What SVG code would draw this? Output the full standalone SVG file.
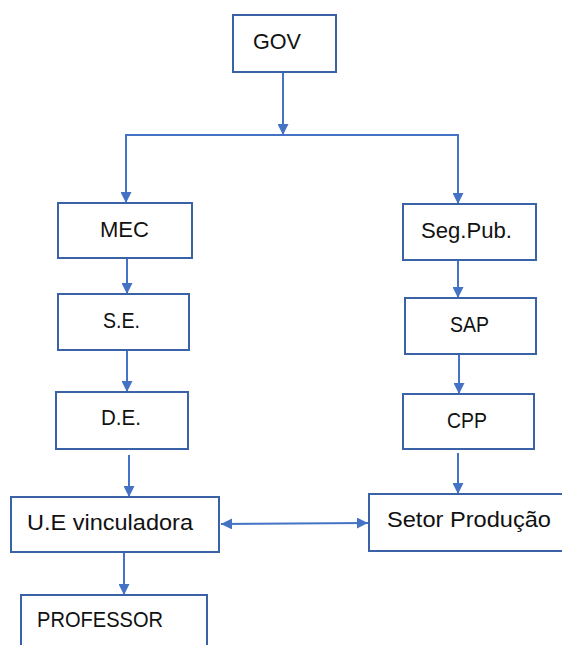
<svg xmlns="http://www.w3.org/2000/svg" width="562" height="645" viewBox="0 0 562 645">
<style>
.box{fill:#ffffff;stroke:#3A62A7;stroke-width:2}
.lbl{font-family:"Liberation Sans",Arial,sans-serif;font-size:22px;fill:#111111}
.con{fill:none;stroke:#4472C4;stroke-width:2}
</style>
<defs>
<marker id="ah" viewBox="0 0 10 10" refX="10" refY="5" markerWidth="5.5" markerHeight="5.5" orient="auto-start-reverse" markerUnits="strokeWidth">
<path d="M0,0 L10,5 L0,10 z" fill="#4472C4"/>
</marker>
</defs>
<rect width="562" height="645" fill="#ffffff"/>
<g id="connectors">
<line class="con" x1="283" y1="72" x2="283" y2="135" marker-end="url(#ah)"/>
<line class="con" x1="126" y1="135" x2="458" y2="135"/>
<line class="con" x1="126" y1="134" x2="126" y2="203" marker-end="url(#ah)"/>
<line class="con" x1="458" y1="134" x2="458" y2="204" marker-end="url(#ah)"/>
<line class="con" x1="127" y1="258" x2="127" y2="294" marker-end="url(#ah)"/>
<line class="con" x1="127" y1="350" x2="127" y2="392" marker-end="url(#ah)"/>
<line class="con" x1="129" y1="455" x2="129" y2="497" marker-end="url(#ah)"/>
<line class="con" x1="124" y1="552" x2="124" y2="595" marker-end="url(#ah)"/>
<line class="con" x1="458" y1="260" x2="458" y2="298" marker-end="url(#ah)"/>
<line class="con" x1="459" y1="354" x2="459" y2="394" marker-end="url(#ah)"/>
<line class="con" x1="458" y1="453" x2="458" y2="494" marker-end="url(#ah)"/>
<line class="con" x1="221" y1="524" x2="368" y2="523" marker-start="url(#ah)" marker-end="url(#ah)"/>
</g>
<g id="gov"><rect class="box" x="233" y="15" width="103" height="57"/><text class="lbl" x="253" y="49" textLength="48" lengthAdjust="spacingAndGlyphs">GOV</text></g>
<g id="mec"><rect class="box" x="58" y="203" width="134" height="55"/><text class="lbl" x="100" y="237" textLength="49" lengthAdjust="spacingAndGlyphs">MEC</text></g>
<g id="se"><rect class="box" x="58" y="294" width="131" height="56"/><text class="lbl" x="103" y="328" textLength="37" lengthAdjust="spacingAndGlyphs">S.E.</text></g>
<g id="de"><rect class="box" x="56" y="392" width="132" height="57"/><text class="lbl" x="101" y="425" textLength="40" lengthAdjust="spacingAndGlyphs">D.E.</text></g>
<g id="ue"><rect class="box" x="11" y="497" width="208" height="55"/><text class="lbl" x="27" y="530" textLength="166" lengthAdjust="spacingAndGlyphs">U.E vinculadora</text></g>
<g id="professor"><rect class="box" x="21" y="595" width="186" height="60"/><text class="lbl" x="37" y="627" textLength="126" lengthAdjust="spacingAndGlyphs">PROFESSOR</text></g>
<g id="segpub"><rect class="box" x="403" y="204" width="133" height="56"/><text class="lbl" x="421" y="238" textLength="91" lengthAdjust="spacingAndGlyphs">Seg.Pub.</text></g>
<g id="sap"><rect class="box" x="405" y="298" width="131" height="56"/><text class="lbl" x="450" y="332" textLength="39" lengthAdjust="spacingAndGlyphs">SAP</text></g>
<g id="cpp"><rect class="box" x="403" y="394" width="131" height="55"/><text class="lbl" x="447" y="428" textLength="40" lengthAdjust="spacingAndGlyphs">CPP</text></g>
<g id="setor"><rect class="box" x="369" y="494" width="200" height="57"/><text class="lbl" x="387" y="527" textLength="164" lengthAdjust="spacingAndGlyphs">Setor Produção</text></g>
</svg>
